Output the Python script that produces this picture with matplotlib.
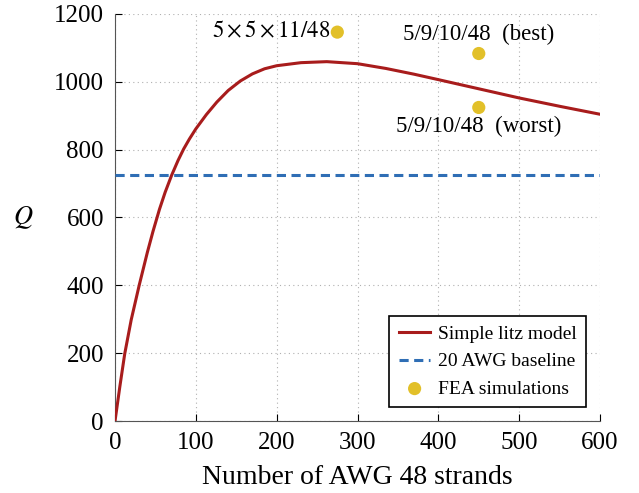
import matplotlib
matplotlib.use("Agg")
import matplotlib.pyplot as plt

# simple litz model curve
strands = [0, 6, 12, 20, 30, 40, 47, 55, 62, 70, 78, 85, 92, 100, 113, 126, 140, 155,
           170, 185, 200, 230, 262, 300, 335, 370, 400, 450, 500, 551, 600]
q_model = [0, 102, 198, 298, 401, 497, 559, 624, 674, 724, 768, 802, 831, 861, 903, 940,
           974, 1002, 1023, 1038, 1047, 1056, 1059, 1053, 1039, 1022, 1006, 979, 952, 927, 904]

baseline_q = 725

fea_x = [275, 450, 450]
fea_q = [1146, 1083, 924]
fea_labels = ["$5\\times5\\times11/48$", "5/9/10/48  (best)", "5/9/10/48  (worst)"]

plt.rcParams['font.family'] = ['Liberation Serif', 'DejaVu Serif']
plt.rcParams['mathtext.fontset'] = 'stix'

fig = plt.figure(figsize=(6.39, 4.93), dpi=100)
ax = fig.add_axes([0.18, 0.146, 0.759, 0.826])

ax.plot(strands, q_model, color='#a81c1c', lw=2.2, label='Simple litz model', zorder=3,
        solid_joinstyle='round')
ax.axhline(baseline_q, color='#2f6eb5', lw=2.2, ls=(0, (3, 1.8)), label='20 AWG baseline', zorder=3)
ax.scatter(fea_x, fea_q, s=90, color='#e2c029', edgecolors='none', label='FEA simulations', zorder=4)

ax.text(fea_x[0] - 9, fea_q[0], fea_labels[0], ha='right', va='center', fontsize=16.5)
ax.text(fea_x[1], fea_q[1] + 24, fea_labels[1], ha='center', va='bottom', fontsize=16.5)
ax.text(fea_x[2], fea_q[2] - 26, fea_labels[2], ha='center', va='top', fontsize=16.5)

ax.set_xlim(0, 600)
ax.set_ylim(0, 1200)
ax.set_xticks(range(0, 601, 100))
ax.set_yticks(range(0, 1201, 200))
ax.tick_params(direction='in', labelsize=18, length=5, width=0.8, pad=8)
ax.grid(True, ls=(0, (1, 3)), color='#b0b0b0', lw=0.8)
ax.spines['top'].set_visible(False)
ax.spines['right'].set_visible(False)
ax.spines['left'].set_color('#555555')
ax.spines['bottom'].set_color('#555555')
ax.set_xlabel('Number of AWG 48 strands', fontsize=20, labelpad=8)
ax.set_ylabel('$Q$', fontsize=19, rotation=0, labelpad=22, va='center')

leg = ax.legend(loc='lower right', fontsize=14, frameon=True, fancybox=False,
                edgecolor='black', framealpha=1, borderaxespad=0.7, handlelength=1.6,
                handletextpad=0.4, labelspacing=0.5, borderpad=0.5)
leg.get_frame().set_linewidth(1.2)

fig.savefig('out.png', dpi=100)
